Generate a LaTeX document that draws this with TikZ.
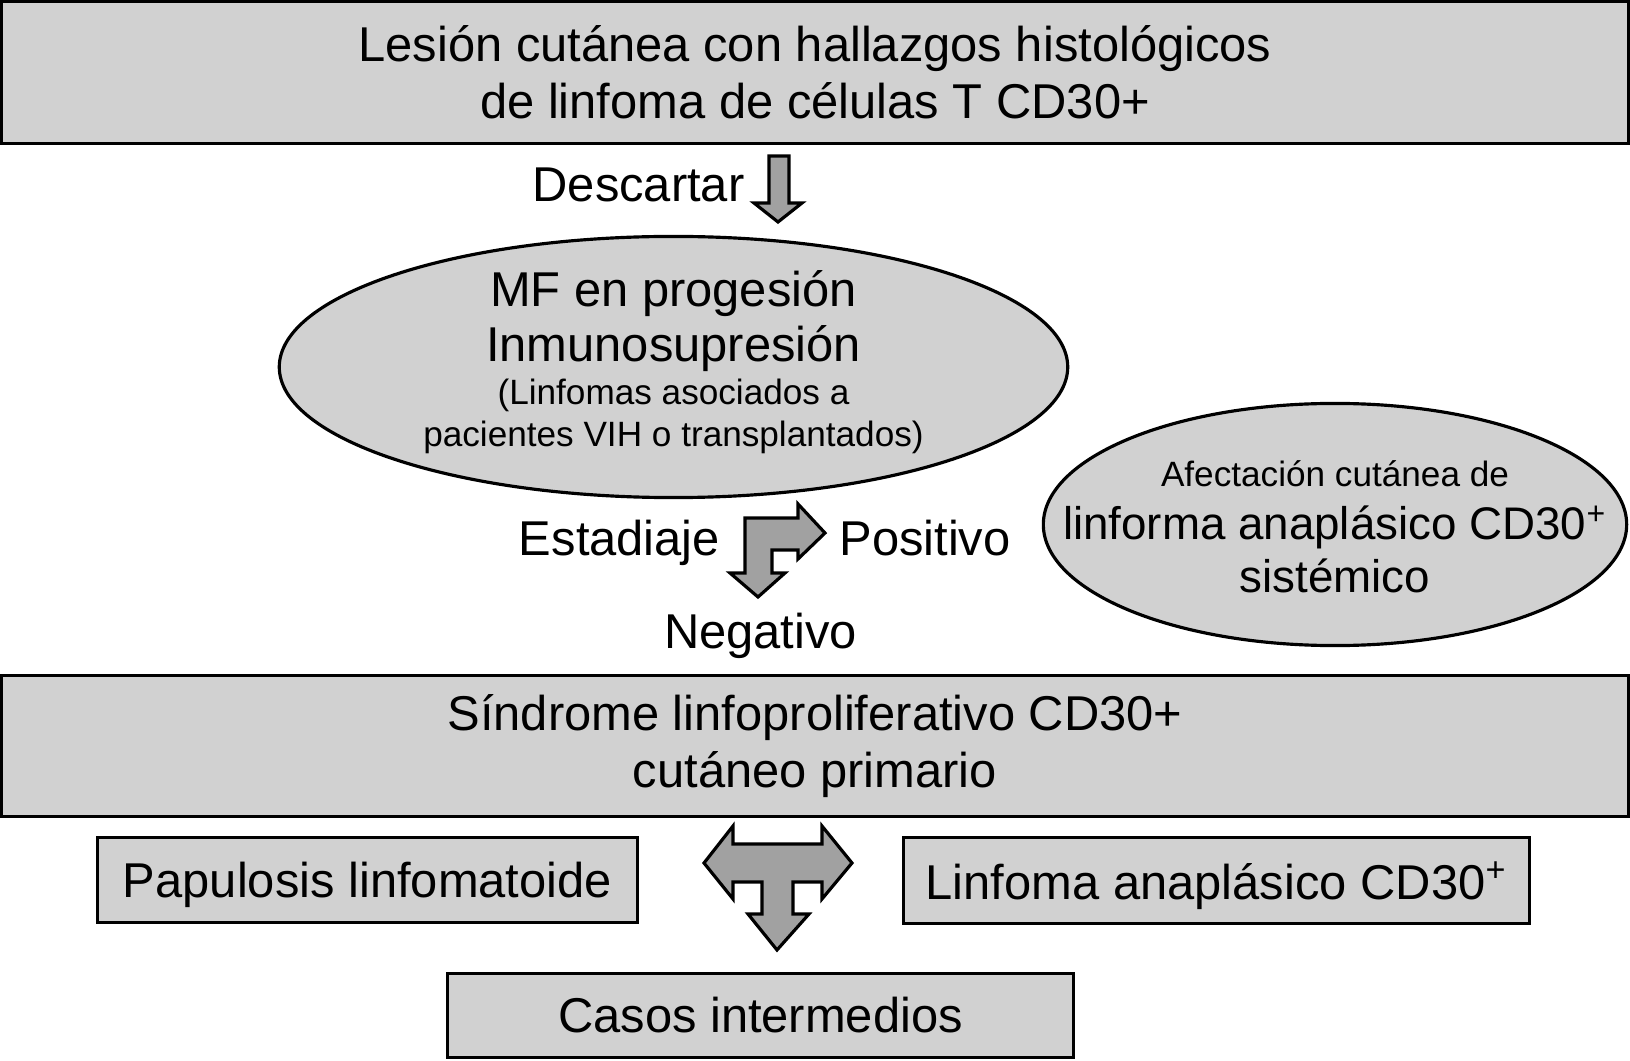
\documentclass[tikz,border=0pt]{standalone}
\usepackage{fontspec}
\setmainfont{Liberation Sans}
\usetikzlibrary{shapes.geometric}

\begin{document}
\begin{tikzpicture}[
  x=0.01cm, y=-0.01cm,
  font=\fontsize{13.9}{16.2}\selectfont,
  box/.style={draw,line width=0.9pt,fill=black!18,inner sep=0pt,align=center},
  ell/.style={ellipse,draw,line width=0.9pt,fill=black!18,inner sep=0pt},
  blk/.style={draw,line width=0.9pt,fill=black!37,line join=miter},
  lbl/.style={anchor=base,inner sep=0pt}
]
\useasboundingbox (0,0) rectangle (1630,1061);

% ---------------- top: lesion ----------------
\node[box,minimum width=16.27cm,minimum height=1.42cm] (lesion) at (815,72.5)
  {Lesión cutánea con hallazgos histológicos\\de linfoma de células T CD30+};
\node[lbl] (descartar) at (638.5,202) {Descartar};
\draw[blk] (769,156) -- (789,156) -- (789,203) -- (802,203) -- (778,222)
  -- (754,203) -- (769,203) -- cycle;

% ---------------- ellipse: MF / inmunosupresion ----------------
\node[ell,minimum width=7.88cm,minimum height=2.61cm] (mf) at (673.5,367) {};
\node[align=center,font=\fontsize{13.9}{15.9}\selectfont] (mftxt) at (673.5,362)
  {MF en progesión\\Inmunosupresión\\[-3.7pt]
   {\fontsize{10}{11.9}\selectfont (Linfomas asociados a}\\[-4pt]
   {\fontsize{10}{11.9}\selectfont pacientes VIH o transplantados)}};

% ---------------- staging ----------------
\node[lbl] (estadiaje) at (619.5,555) {Estadiaje};
\node[lbl] (positivo) at (925,555) {Positivo};
\node[lbl] (negativo) at (760.5,648) {Negativo};
\draw[blk] (745,518) -- (798,518) -- (798,504) -- (825,533) -- (798,559)
  -- (798,550) -- (772,550) -- (772,573) -- (785,573) -- (758,597)
  -- (730,573) -- (745,573) -- cycle;

% ---------------- ellipse: systemic ----------------
\node[ell,minimum width=5.83cm,minimum height=2.42cm] (sist) at (1335,524.5) {};
\node[align=center,font=\fontsize{13}{15}\selectfont] (sisttxt) at (1335,527)
  {{\fontsize{10}{11.9}\selectfont Afectación cutánea de}\\
   linforma anaplásico CD30\textsuperscript{+}\\sistémico};

% ---------------- middle: sindrome ----------------
\node[box,minimum width=16.27cm,minimum height=1.405cm] (sindrome) at (815,746)
  {Síndrome linfoproliferativo CD30+\\cutáneo primario};
\draw[blk] (733,844) -- (822,844) -- (822,826) -- (852,863) -- (822,899)
  -- (822,882) -- (793,882) -- (793,914) -- (809,914) -- (777,950)
  -- (748,914) -- (762,914) -- (762,882) -- (733,882) -- (733,899)
  -- (704,863) -- (733,826) -- cycle;

% ---------------- bottom row ----------------
\node[box,text depth=0pt,minimum width=5.4cm,minimum height=0.85cm] (papulosis)
  at (367.5,880) {Papulosis linfomatoide};
\node[box,text depth=0pt,minimum width=6.26cm,minimum height=0.86cm] (linfoma)
  at (1216.5,880.5) {Linfoma anaplásico CD30\textsuperscript{+}};
\node[box,minimum width=6.26cm,minimum height=0.84cm] (casos) at (760.5,1015.5)
  {Casos intermedios};
\end{tikzpicture}
\end{document}
